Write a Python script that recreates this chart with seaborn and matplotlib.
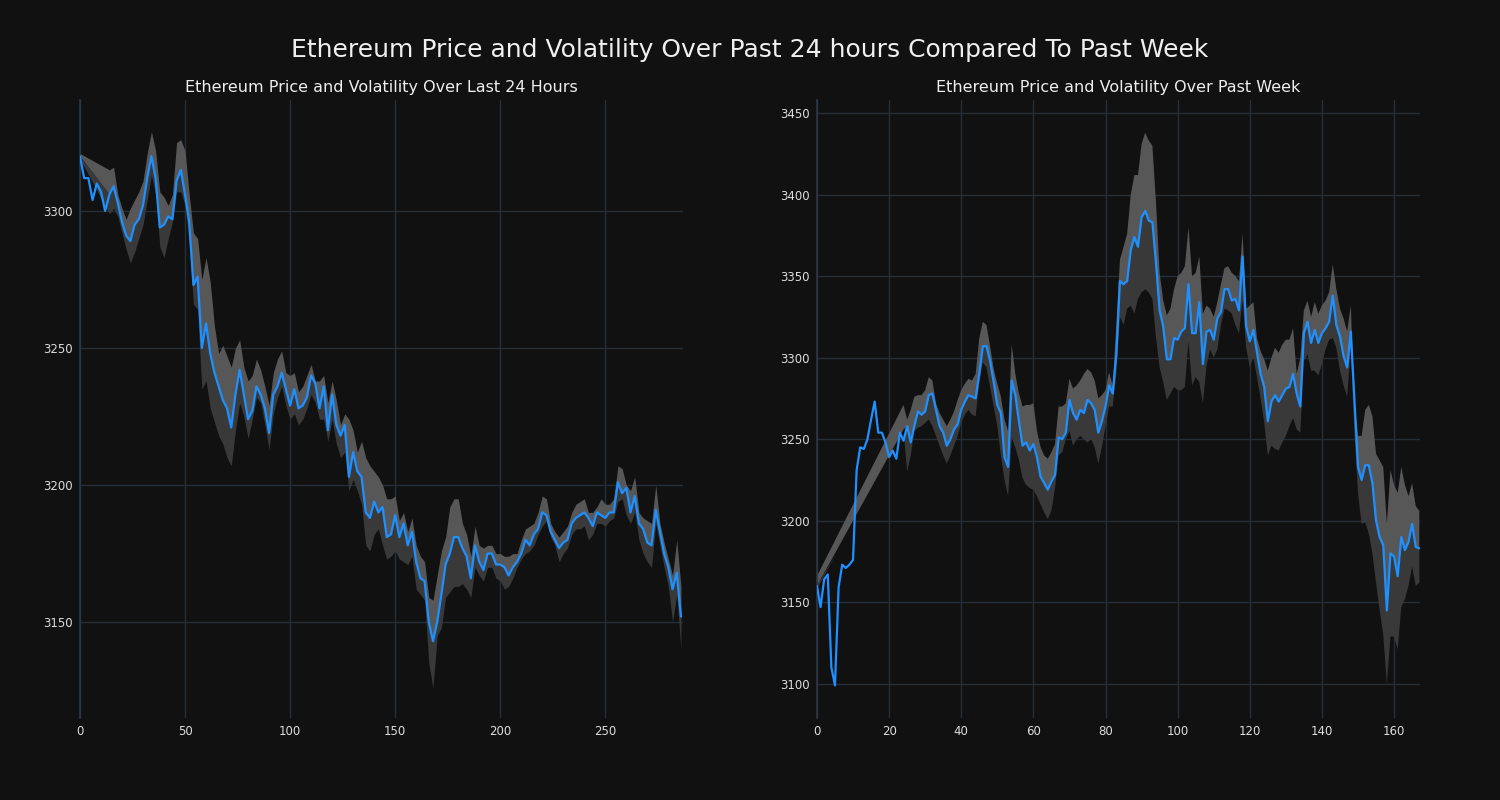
import numpy as np
import seaborn as sns
import matplotlib
matplotlib.use("Agg")
import matplotlib.pyplot as plt

# ---- data: last 24 hours (5-min steps, sampled every 2nd point) ----
day_x = list(range(0, 288, 2))
day_price = [
    3320, 3312, 3312, 3304, 3310, 3307, 3300, 3306, 3309, 3303,
    3296, 3291, 3289, 3295, 3297, 3302, 3312, 3320, 3312, 3294,
    3295, 3298, 3297, 3311, 3315, 3306, 3296, 3273, 3276, 3250,
    3259, 3248, 3241, 3236, 3231, 3228, 3221, 3233, 3242, 3233,
    3224, 3227, 3236, 3233, 3228, 3219, 3233, 3236, 3241, 3235,
    3229, 3235, 3228, 3229, 3232, 3240, 3237, 3228, 3236, 3220,
    3233, 3222, 3218, 3222, 3203, 3212, 3205, 3203, 3190, 3188,
    3194, 3190, 3192, 3181, 3182, 3189, 3181, 3186, 3178, 3183,
    3172, 3166, 3165, 3150, 3143, 3150, 3160, 3171, 3175, 3181,
    3181, 3177, 3174, 3166, 3178, 3172, 3169, 3175, 3175, 3171,
    3171, 3170, 3167, 3170, 3172, 3175, 3180, 3178, 3182, 3184,
    3190, 3189, 3183, 3180, 3177, 3179, 3180, 3186, 3188, 3189,
    3190, 3188, 3185, 3190, 3189, 3188, 3190, 3190, 3201, 3197,
    3199, 3190, 3196, 3186, 3184, 3179, 3178, 3191, 3183, 3175,
    3170, 3162, 3168, 3152,
]
day_band_x = [0] + list(range(14, 288, 2))
day_hi = [
    3321,
    3315, 3316, 3306, 3301, 3297, 3301, 3304, 3307, 3311, 3321,
    3329, 3322, 3307, 3305, 3302, 3306, 3325, 3326, 3322, 3306,
    3292, 3290, 3275, 3283, 3274, 3258, 3248, 3251, 3247, 3243,
    3250, 3253, 3243, 3238, 3240, 3246, 3242, 3236, 3229, 3241,
    3246, 3249, 3241, 3240, 3241, 3234, 3236, 3240, 3244, 3238,
    3238, 3240, 3230, 3238, 3231, 3222, 3226, 3224, 3220, 3212,
    3216, 3210, 3207, 3205, 3203, 3200, 3195, 3195, 3196, 3187,
    3190, 3183, 3188, 3178, 3174, 3172, 3159, 3158, 3167, 3176,
    3181, 3192, 3195, 3195, 3186, 3182, 3174, 3185, 3178, 3177,
    3178, 3178, 3175, 3175, 3174, 3174, 3175, 3175, 3180, 3184,
    3185, 3186, 3190, 3196, 3195, 3186, 3183, 3181, 3183, 3185,
    3190, 3193, 3194, 3195, 3190, 3190, 3192, 3195, 3193, 3193,
    3195, 3207, 3206, 3200, 3198, 3203, 3190, 3188, 3187, 3186,
    3200, 3186, 3179, 3173, 3167, 3180, 3163,
]
day_lo = [
    3319,
    3299, 3301, 3298, 3292, 3286, 3281, 3285, 3290, 3295, 3304,
    3313, 3306, 3287, 3283, 3290, 3296, 3307, 3307, 3302, 3288,
    3266, 3264, 3235, 3238, 3228, 3223, 3218, 3215, 3210, 3207,
    3220, 3230, 3225, 3217, 3224, 3232, 3230, 3222, 3213, 3226,
    3232, 3236, 3229, 3224, 3226, 3222, 3224, 3228, 3233, 3230,
    3224, 3224, 3216, 3224, 3215, 3210, 3212, 3198, 3202, 3198,
    3193, 3178, 3176, 3182, 3184, 3178, 3173, 3174, 3176, 3173,
    3172, 3171, 3174, 3162, 3160, 3158, 3135, 3126, 3145, 3148,
    3159, 3161, 3163, 3163, 3164, 3162, 3159, 3170, 3167, 3165,
    3170, 3170, 3166, 3165, 3162, 3163, 3166, 3170, 3173, 3175,
    3176, 3178, 3182, 3185, 3187, 3181, 3178, 3172, 3175, 3177,
    3182, 3184, 3184, 3185, 3180, 3182, 3186, 3186, 3185, 3187,
    3188, 3194, 3195, 3189, 3186, 3190, 3180, 3175, 3172, 3170,
    3186, 3178, 3170, 3163, 3150, 3160, 3140,
]

# ---- data: past week (hourly) ----
week_x = list(range(168))
week_price = [
    3160, 3147, 3164, 3167, 3110, 3099, 3159, 3173, 3171, 3173,
    3176, 3231, 3245, 3244, 3250, 3262, 3273, 3254, 3254, 3248,
    3239, 3243, 3238, 3254, 3249, 3258, 3248, 3258, 3267, 3265,
    3267, 3277, 3278, 3268, 3258, 3254, 3246, 3250, 3256, 3259,
    3268, 3273, 3277, 3276, 3275, 3290, 3307, 3307, 3298, 3285,
    3271, 3266, 3239, 3233, 3286, 3277, 3261, 3246, 3248, 3243,
    3247, 3239, 3227, 3223, 3219, 3224, 3228, 3251, 3250, 3254,
    3274, 3266, 3262, 3268, 3266, 3274, 3272, 3268, 3254, 3261,
    3270, 3283, 3278, 3302, 3347, 3345, 3347, 3366, 3374, 3368,
    3386, 3390, 3384, 3383, 3358, 3329, 3319, 3299, 3299, 3312,
    3311, 3316, 3318, 3345, 3315, 3315, 3334, 3296, 3316, 3317,
    3311, 3324, 3328, 3342, 3342, 3335, 3336, 3329, 3362, 3319,
    3310, 3317, 3303, 3290, 3282, 3261, 3273, 3277, 3273, 3277,
    3281, 3282, 3290, 3278, 3270, 3315, 3322, 3309, 3317, 3309,
    3315, 3318, 3322, 3338, 3320, 3313, 3301, 3294, 3316, 3274,
    3233, 3225, 3234, 3234, 3223, 3200, 3190, 3185, 3145, 3180,
    3178, 3166, 3190, 3182, 3187, 3198, 3184, 3183,
]
week_band_x = [0] + list(range(24, 168))
week_hi = [
    3166,
    3271, 3262, 3268, 3276, 3277, 3277,
    3280, 3288, 3286, 3272, 3266, 3262, 3258, 3262, 3267, 3274,
    3280, 3284, 3287, 3286, 3290, 3312, 3322, 3320, 3307, 3293,
    3284, 3276, 3262, 3255, 3308, 3290, 3278, 3270, 3271, 3271,
    3272, 3255, 3245, 3240, 3238, 3242, 3247, 3270, 3270, 3272,
    3287, 3281, 3283, 3286, 3290, 3293, 3291, 3286, 3275, 3277,
    3280, 3291, 3283, 3320, 3360, 3368, 3376, 3400, 3412, 3412,
    3431, 3438, 3433, 3430, 3395, 3352, 3335, 3326, 3330, 3342,
    3350, 3352, 3356, 3380, 3350, 3352, 3362, 3327, 3332, 3330,
    3325, 3334, 3345, 3355, 3356, 3352, 3350, 3347, 3376, 3330,
    3332, 3334, 3312, 3304, 3299, 3292, 3300, 3306, 3303, 3308,
    3311, 3311, 3318, 3290, 3300, 3329, 3335, 3325, 3334, 3327,
    3332, 3335, 3340, 3357, 3342, 3330, 3324, 3316, 3332, 3274,
    3252, 3252, 3268, 3271, 3264, 3241, 3237, 3233, 3198, 3231,
    3222, 3217, 3233, 3222, 3215, 3223, 3209, 3206,
]
week_lo = [
    3158,
    3256, 3230, 3240, 3255, 3257, 3258,
    3260, 3262, 3258, 3252, 3246, 3240, 3235, 3240, 3246, 3252,
    3260, 3265, 3268, 3265, 3264, 3285, 3297, 3294, 3282, 3270,
    3258, 3240, 3225, 3215, 3251, 3245, 3237, 3226, 3222, 3220,
    3219, 3215, 3210, 3205, 3201, 3206, 3220, 3240, 3242, 3250,
    3255, 3246, 3250, 3252, 3250, 3248, 3250, 3245, 3235, 3245,
    3258, 3270, 3270, 3290, 3325, 3320, 3330, 3332, 3327, 3336,
    3340, 3342, 3340, 3336, 3312, 3294, 3285, 3274, 3278, 3282,
    3280, 3280, 3282, 3310, 3283, 3288, 3285, 3272, 3295, 3305,
    3300, 3305, 3320, 3330, 3329, 3327, 3320, 3315, 3335, 3306,
    3294, 3300, 3288, 3275, 3260, 3240, 3246, 3244, 3243, 3248,
    3252, 3258, 3263, 3256, 3254, 3298, 3302, 3292, 3292, 3289,
    3296, 3305, 3311, 3312, 3306, 3292, 3283, 3276, 3306, 3254,
    3217, 3198, 3199, 3192, 3180, 3162, 3145, 3130, 3100, 3129,
    3129, 3121, 3147, 3152, 3160, 3172, 3160, 3162,
]

BG = "#111111"
GRID = "#262e38"
LINE = "#1e90ff"
LIGHT = "#575757"
DARK = "#393939"

sns.set_style("darkgrid", rc={
    "axes.facecolor": BG,
    "figure.facecolor": BG,
    "grid.color": GRID,
    "axes.edgecolor": "#2c3846",
    "text.color": "#eeeeee",
    "xtick.color": "#dddddd",
    "ytick.color": "#dddddd",
    "axes.labelcolor": "#dddddd",
})
plt.rcParams["font.family"] = ["DejaVu Sans"]


def draw_panel(ax, x, price, bx, hi, lo, title):
    x = np.asarray(x, dtype=float)
    price = np.asarray(price, dtype=float)
    bx = np.asarray(bx, dtype=float)
    hi = np.asarray(hi, dtype=float)
    lo = np.asarray(lo, dtype=float)
    p_at = np.interp(bx, x, price)
    # part of the band above the price line is lighter, below is darker
    top_base = np.maximum(lo, p_at)
    ax.fill_between(bx, top_base, hi, where=hi > top_base, interpolate=True,
                    color=LIGHT, linewidth=0, zorder=1)
    bot_top = np.minimum(p_at, hi)
    ax.fill_between(bx, lo, bot_top, where=bot_top > lo, interpolate=True,
                    color=DARK, linewidth=0, zorder=1)
    sns.lineplot(x=x, y=price, ax=ax, color=LINE, linewidth=1.6, zorder=3)
    ax.set_title(title, fontsize=11.5, color="#eeeeee", pad=6)
    ax.set_xlabel("")
    ax.set_ylabel("")
    ax.tick_params(axis="both", length=0, labelsize=8.5, pad=5)
    for side in ["top", "right", "bottom"]:
        ax.spines[side].set_visible(False)
    ax.spines["left"].set_visible(True)
    ax.spines["left"].set_color("#2c3846")
    ax.spines["left"].set_linewidth(1.2)
    ax.grid(True, color=GRID, linewidth=1)


fig, (ax1, ax2) = plt.subplots(1, 2, figsize=(15, 8), dpi=100)
fig.subplots_adjust(left=0.0533, right=0.9467, bottom=0.1025, top=0.875, wspace=0.222)

draw_panel(ax1, day_x, day_price, day_band_x, day_hi, day_lo,
           "Ethereum Price and Volatility Over Last 24 Hours")
ax1.set_xlim(0, 287)
ax1.set_ylim(3115, 3340.5)
ax1.set_xticks([0, 50, 100, 150, 200, 250])
ax1.set_yticks([3150, 3200, 3250, 3300])

draw_panel(ax2, week_x, week_price, week_band_x, week_hi, week_lo,
           "Ethereum Price and Volatility Over Past Week")
ax2.set_xlim(0, 167.2)
ax2.set_ylim(3079, 3458)
ax2.set_xticks([0, 20, 40, 60, 80, 100, 120, 140, 160])
ax2.set_yticks([3100, 3150, 3200, 3250, 3300, 3350, 3400, 3450])

fig.suptitle("Ethereum Price and Volatility Over Past 24 hours Compared To Past Week",
             fontsize=18, color="#f0f0f0", y=0.9375, va="center")

plt.savefig("out.png", dpi=100, facecolor=BG)
